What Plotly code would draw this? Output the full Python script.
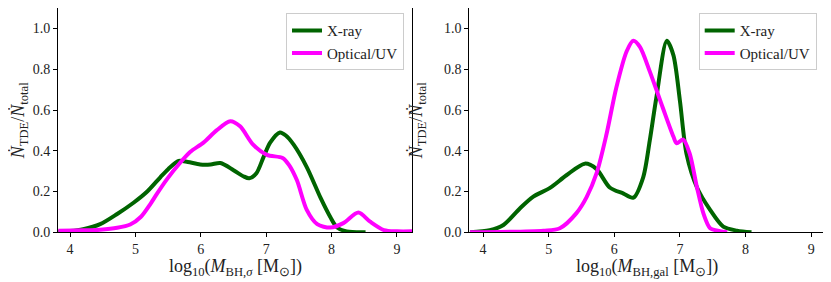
import plotly.graph_objects as go
from plotly.subplots import make_subplots

# Left panel (M_BH,sigma)
left_xray_x = [3.82, 4.0, 4.2, 4.46, 4.72, 4.97, 5.18, 5.38, 5.5, 5.66, 5.8, 5.99, 6.15, 6.3, 6.5, 6.65, 6.74, 6.85, 6.96, 7.06, 7.21, 7.3, 7.42, 7.62, 7.83, 7.98, 8.08, 8.23, 8.52]
left_xray_y = [0.003, 0.006, 0.015, 0.04, 0.09, 0.145, 0.2, 0.27, 0.31, 0.35, 0.345, 0.333, 0.333, 0.34, 0.305, 0.275, 0.265, 0.29, 0.37, 0.44, 0.49, 0.475, 0.43, 0.32, 0.17, 0.075, 0.025, 0.004, 0.0]
left_opt_x = [3.82, 4.2, 4.46, 4.72, 4.92, 5.08, 5.23, 5.33, 5.48, 5.68, 5.84, 6.04, 6.24, 6.45, 6.6, 6.8, 7.01, 7.25, 7.35, 7.47, 7.62, 7.78, 7.98, 8.18, 8.41, 8.59, 8.8, 9.0, 9.25]
left_opt_y = [0.008, 0.01, 0.013, 0.022, 0.038, 0.075, 0.14, 0.19, 0.26, 0.34, 0.395, 0.44, 0.5, 0.545, 0.52, 0.43, 0.38, 0.365, 0.33, 0.255, 0.11, 0.04, 0.023, 0.045, 0.097, 0.052, 0.011, 0.005, 0.005]

# Right panel (M_BH,gal)
right_xray_x = [3.8, 4.1, 4.31, 4.56, 4.76, 5.02, 5.27, 5.55, 5.73, 5.93, 6.14, 6.29, 6.44, 6.54, 6.64, 6.8, 6.9, 7.0, 7.1, 7.26, 7.46, 7.66, 7.87, 8.09]
right_xray_y = [0.0, 0.01, 0.036, 0.117, 0.174, 0.218, 0.28, 0.337, 0.31, 0.22, 0.19, 0.17, 0.27, 0.45, 0.66, 0.94, 0.87, 0.645, 0.385, 0.22, 0.11, 0.028, 0.008, 0.0]
right_opt_x = [3.8, 4.92, 5.17, 5.42, 5.58, 5.73, 5.88, 6.03, 6.19, 6.29, 6.39, 6.54, 6.74, 6.9, 6.95, 7.05, 7.15, 7.26, 7.36, 7.46, 7.61, 7.72]
right_opt_y = [0.0, 0.008, 0.02, 0.093, 0.174, 0.29, 0.48, 0.71, 0.89, 0.94, 0.91, 0.79, 0.61, 0.47, 0.437, 0.455, 0.385, 0.22, 0.09, 0.02, 0.006, 0.0]

x_ticks = [4, 5, 6, 7, 8, 9]
y_ticks = [0.0, 0.2, 0.4, 0.6, 0.8, 1.0]
y_tick_labels = ["0.0", "0.2", "0.4", "0.6", "0.8", "1.0"]

GREEN = "#006400"
MAGENTA = "#ff00ff"
FONT = "Liberation Serif"

# page has an 8px body margin: figure offset by 8px, coordinates shifted by 8
OFF = 8
W, H = 831 - OFF, 282 - OFF

def px_x(p):
    return min(1.0, max(0.0, (p - OFF) / W))

def px_y(p):
    return min(1.0, max(0.0, 1 - (p - OFF) / H))

fig = make_subplots(rows=1, cols=2)

def add(x, y, name, color, col, legend):
    fig.add_trace(go.Scatter(x=x, y=y, mode="lines", name=name,
                             line=dict(color=color, width=4, shape="spline", smoothing=0.8),
                             legend=legend, showlegend=True), row=1, col=col)

add(left_xray_x, left_xray_y, "X-ray", GREEN, 1, "legend")
add(left_opt_x, left_opt_y, "Optical/UV", MAGENTA, 1, "legend")
add(right_xray_x, right_xray_y, "X-ray", GREEN, 2, "legend2")
add(right_opt_x, right_opt_y, "Optical/UV", MAGENTA, 2, "legend2")

ydom = [px_y(232.3), px_y(8.2)]
axis_common = dict(showline=True, linecolor="black", linewidth=1, mirror=True,
                   ticks="outside", ticklen=4, tickcolor="black", showgrid=False,
                   zeroline=False, tickfont=dict(family=FONT, size=14, color="#222"),
                   automargin=False)

fig.update_xaxes(**axis_common, tickvals=x_ticks, ticktext=[str(t) for t in x_ticks])
fig.update_yaxes(**axis_common, range=[0, 1.1], tickvals=y_ticks, ticktext=y_tick_labels)

title_font = dict(family=FONT, size=18, color="#222")
ytitle = "<i>Ṅ</i><sub>TDE</sub>/<i>Ṅ</i><sub>total</sub>"
xtitle_left = "log<sub>10</sub>(<i>M</i><sub>BH,<i>σ</i></sub> [M<sub>⊙</sub>])"
xtitle_right = "log<sub>10</sub>(<i>M</i><sub>BH,gal</sub> [M<sub>⊙</sub>])"

fig.update_layout(
    xaxis=dict(domain=[px_x(58), px_x(412)], range=[3.815, 9.23]),
    xaxis2=dict(domain=[px_x(469.3), px_x(824.3)], range=[3.79, 9.2]),
    yaxis=dict(domain=ydom, title=dict(text=ytitle, font=title_font, standoff=13)),
    yaxis2=dict(domain=ydom, title=dict(text=ytitle, font=title_font, standoff=16)),
    legend=dict(x=px_x(404), y=px_y(13.3), xanchor="right", yanchor="top",
                bgcolor="white", bordercolor="#cccccc", borderwidth=1,
                font=dict(family=FONT, size=15, color="#222"), tracegroupgap=0,
                itemwidth=30),
    legend2=dict(x=px_x(816.7), y=px_y(13.3), xanchor="right", yanchor="top",
                 bgcolor="white", bordercolor="#cccccc", borderwidth=1,
                 font=dict(family=FONT, size=15, color="#222"), tracegroupgap=0,
                 itemwidth=30),
    width=W, height=H,
    margin=dict(l=0, r=0, t=0, b=0),
    paper_bgcolor="white", plot_bgcolor="white",
    font=dict(family=FONT),
)

for text, cx in [(xtitle_left, (58 + 412) / 2), (xtitle_right, (469.3 + 824.3) / 2)]:
    fig.add_annotation(text=text, xref="paper", yref="paper", x=px_x(cx), y=px_y(267),
                       xanchor="center", yanchor="middle", showarrow=False, font=title_font)

fig.write_html("out.html")
